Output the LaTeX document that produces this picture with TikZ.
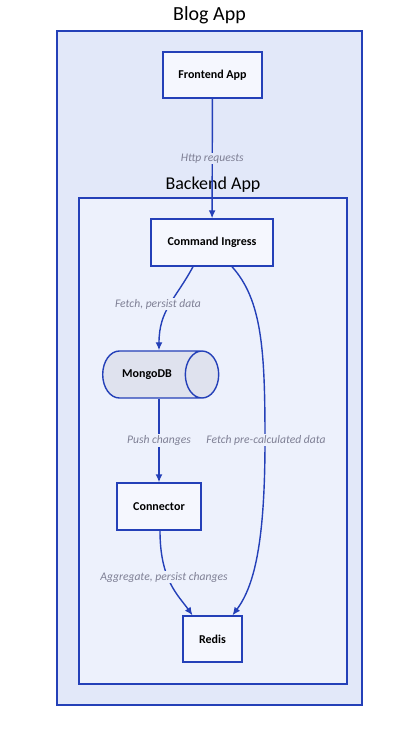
\documentclass[tikz,border=0pt]{standalone}
\usepackage{fontspec}
\setmainfont{Carlito}
\usetikzlibrary{shapes.geometric, arrows.meta}

\definecolor{edgeblue}{HTML}{2440B8}
\definecolor{outerfill}{HTML}{E2E8F9}
\definecolor{innerfill}{HTML}{EDF1FC}
\definecolor{boxfill}{HTML}{F5F7FE}
\definecolor{dbfill}{HTML}{DFE2EE}
\definecolor{labelgray}{HTML}{7E7F94}

\tikzset{
	container/.style={draw=edgeblue, line width=1.4pt, inner sep=0pt},
	service/.style={draw=edgeblue, line width=1.4pt, fill=boxfill, font=\bfseries\fontsize{12}{14}\selectfont, inner sep=0pt},
	database/.style={cylinder, aspect=3.4, draw=edgeblue, line width=1.4pt, fill=dbfill, font=\bfseries\fontsize{12}{14}\selectfont, inner sep=0pt},
	flow/.style={->, draw=edgeblue, line width=1.4pt},
	flowlabel/.style={font=\itshape\fontsize{11.6}{13}\selectfont, text=labelgray, inner sep=1pt},
	title/.style={font=\fontsize{20}{24}\selectfont}
}

\begin{document}
\begin{tikzpicture}[>={Latex[length=8pt,width=7pt]}, x=1pt, y=-1pt]
	\useasboundingbox (0,0) rectangle (419,734);

	% blog app
	\node[container, fill=outerfill, minimum width=305pt, minimum height=674pt] (blog) at (209.5,368) {};
	\node[title] (blogtitle) at (209.5,15) {Blog App};

	% backend app
	\node[container, fill=innerfill, minimum width=268pt, minimum height=486pt] (backend) at (213,441) {};
	\node[title, font=\fontsize{18}{22}\selectfont] (backendtitle) at (213,185) {Backend App};

	% services
	\node[service, minimum width=99pt, minimum height=46pt] (front) at (212.5,75) {Frontend App};
	\node[service, minimum width=122pt, minimum height=47pt] (ingress) at (212,242.5) {Command Ingress};
	\node[database, minimum width=47pt, minimum height=116pt] (mongo) at (152,374.5) {\hspace*{-10pt}MongoDB};
	\node[service, minimum width=84pt, minimum height=47pt] (connector) at (159,506.5) {Connector};
	\node[service, minimum width=59pt, minimum height=46pt] (redis) at (212.5,639) {Redis};

	% requests into the backend
	\draw[flow] (front) -- (ingress) node[flowlabel, pos=.5, fill=outerfill] {Http requests};

	% ingress to mongo
	\draw[flow] ([xshift=-19pt]ingress.south) .. controls (175,300) and (159,310) .. (connector.north |- mongo.north);
	\node[flowlabel, fill=innerfill] (fetchlabel) at (158,304) {Fetch, persist data};

	% ingress to redis
	\draw[flow] ([xshift=20pt]ingress.south) .. controls (262,300) and (265,350) .. (265,440)
		.. controls (265,540) and (255,585) .. ([xshift=20pt]redis.north);
	\node[flowlabel, fill=innerfill] (precalclabel) at (266,440) {Fetch pre-calculated data};

	% mongo to connector
	\draw[flow] (connector.north |- mongo.south) -- (connector.north) node[flowlabel, pos=.5, fill=innerfill] {Push changes};

	% connector to redis
	\draw[flow] ([xshift=1pt]connector.south) .. controls (160,580) and (178,595) .. ([xshift=-20pt]redis.north);
	\node[flowlabel, fill=innerfill] (aggrlabel) at (164,577) {Aggregate, persist changes};
\end{tikzpicture}
\end{document}
